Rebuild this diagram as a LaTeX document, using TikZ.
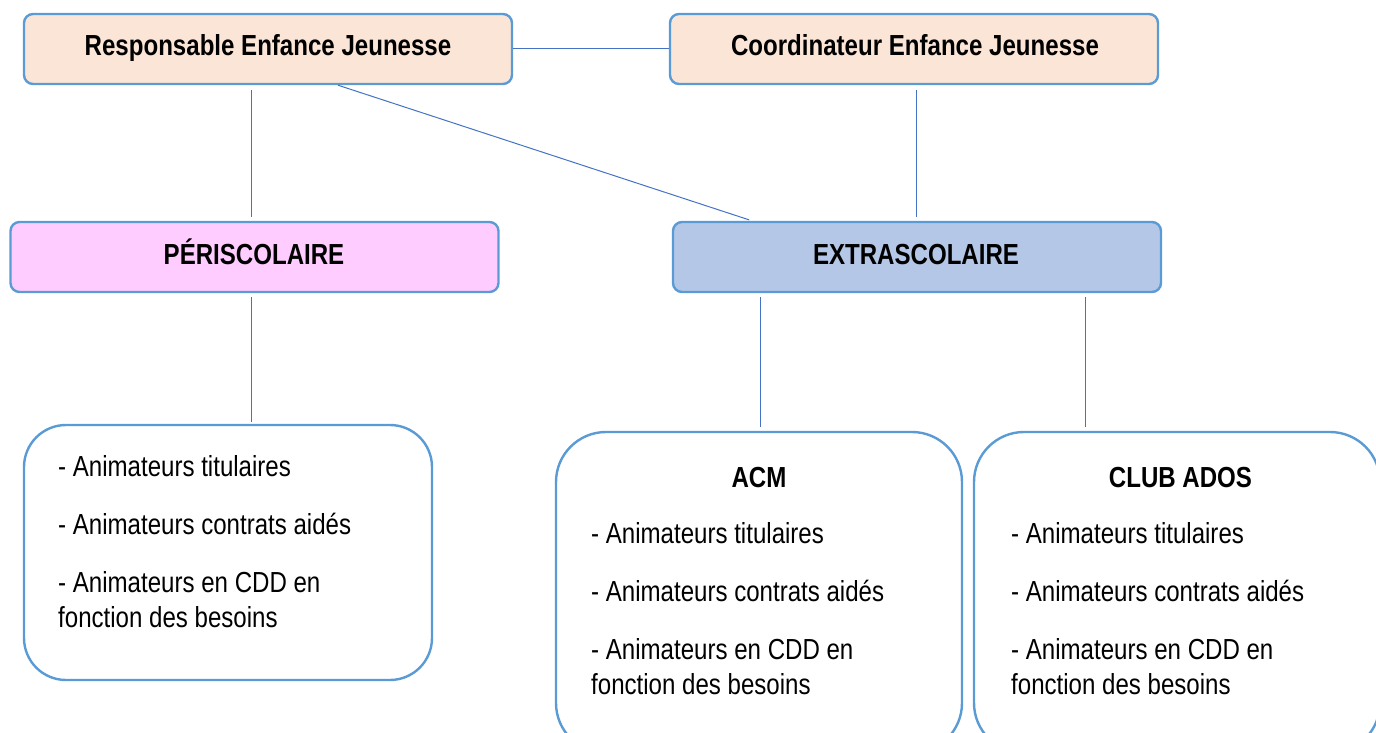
\documentclass[tikz,border=0pt]{standalone}
\usepackage{fontspec}
\setmainfont{Liberation Sans}[FakeStretch=0.83]
\usetikzlibrary{positioning}
\definecolor{bordblue}{HTML}{5B9BD5}
\definecolor{linkblue}{HTML}{4472C4}
\definecolor{peach}{HTML}{FBE5D6}
\definecolor{pinkfill}{HTML}{FFCCFF}
\definecolor{bluefill}{HTML}{B4C7E7}
\tikzset{
  topbox/.style={draw=bordblue, line width=2.4pt, rounded corners=9pt, minimum width=488pt, minimum height=70pt, inner sep=0pt},
  bigbox/.style={draw=bordblue, line width=2.4pt, fill=white, inner sep=0pt},
  title/.style={font=\fontsize{29}{35}\selectfont\bfseries, inner sep=0pt, anchor=base},
  item/.style={font=\fontsize{29}{35}\selectfont, inner sep=0pt, anchor=base west},
  link/.style={draw=linkblue, line width=1pt},
}
\begin{document}
\begin{tikzpicture}[x=1pt, y=-1pt]
\useasboundingbox (0,0) rectangle (1376,733);
\clip (0,0) rectangle (1376,733);
% top boxes
\node[topbox, fill=peach] (resp) at (268,49) {};
\node[topbox, fill=peach] (coord) at (914,49) {};
\node[topbox, fill=pinkfill] (peri) at (254.5,257) {};
\node[topbox, fill=bluefill] (extra) at (917,257) {};
% bottom boxes
\node[bigbox, rounded corners=42pt, minimum width=408pt, minimum height=255pt] (left) at (228,552.5) {};
\node[bigbox, rounded corners=50pt, minimum width=406pt, minimum height=321pt] (acm) at (759,592.5) {};
\node[bigbox, rounded corners=50pt, minimum width=406pt, minimum height=321pt] (club) at (1177,592.5) {};
% titles
\node[title] (tresp) at (268,56) {Responsable Enfance Jeunesse};
\node[title] (tcoord) at (915,56) {Coordinateur Enfance Jeunesse};
\node[title] (tperi) at (254,264) {PÉRISCOLAIRE};
\node[title] (textra) at (916,264) {EXTRASCOLAIRE};
\node[title] (tacm) at (759,487) {ACM};
\node[title] (tclub) at (1180.5,487) {CLUB ADOS};
% left items
\node[item] (l1) at (58,476) {- Animateurs titulaires};
\node[item] (l2) at (58,534) {- Animateurs contrats aidés};
\node[item] (l3) at (58,592) {- Animateurs en CDD en};
\node[item] (l4) at (58,627) {fonction des besoins};
% acm items
\node[item] (a1) at (591,543) {- Animateurs titulaires};
\node[item] (a2) at (591,601) {- Animateurs contrats aidés};
\node[item] (a3) at (591,659) {- Animateurs en CDD en};
\node[item] (a4) at (591,694) {fonction des besoins};
% club items
\node[item] (c1) at (1011,543) {- Animateurs titulaires};
\node[item] (c2) at (1011,601) {- Animateurs contrats aidés};
\node[item] (c3) at (1011,659) {- Animateurs en CDD en};
\node[item] (c4) at (1011,694) {fonction des besoins};
% connectors
\draw[link] (resp.east) -- (coord.west);
\draw[link, shorten <=5pt, shorten >=4pt] ([xshift=-17pt]resp.south) -- ([xshift=-3.5pt]peri.north);
\draw[link, shorten >=3pt] ([xshift=70pt]resp.south) -- ([xshift=-165pt]extra.north);
\draw[link, shorten <=5pt, shorten >=4pt] ([xshift=2pt]coord.south) -- ([xshift=-1pt]extra.north);
\draw[link, shorten <=4pt, shorten >=2pt] ([xshift=-3.5pt]peri.south) -- ([xshift=23pt]left.north);
\draw[link, shorten <=4pt, shorten >=4pt] ([xshift=-157pt]extra.south) -- ([xshift=1pt]acm.north);
\draw[link, shorten <=4pt, shorten >=4pt] ([xshift=168pt]extra.south) -- ([xshift=-92pt]club.north);
\end{tikzpicture}
\end{document}
